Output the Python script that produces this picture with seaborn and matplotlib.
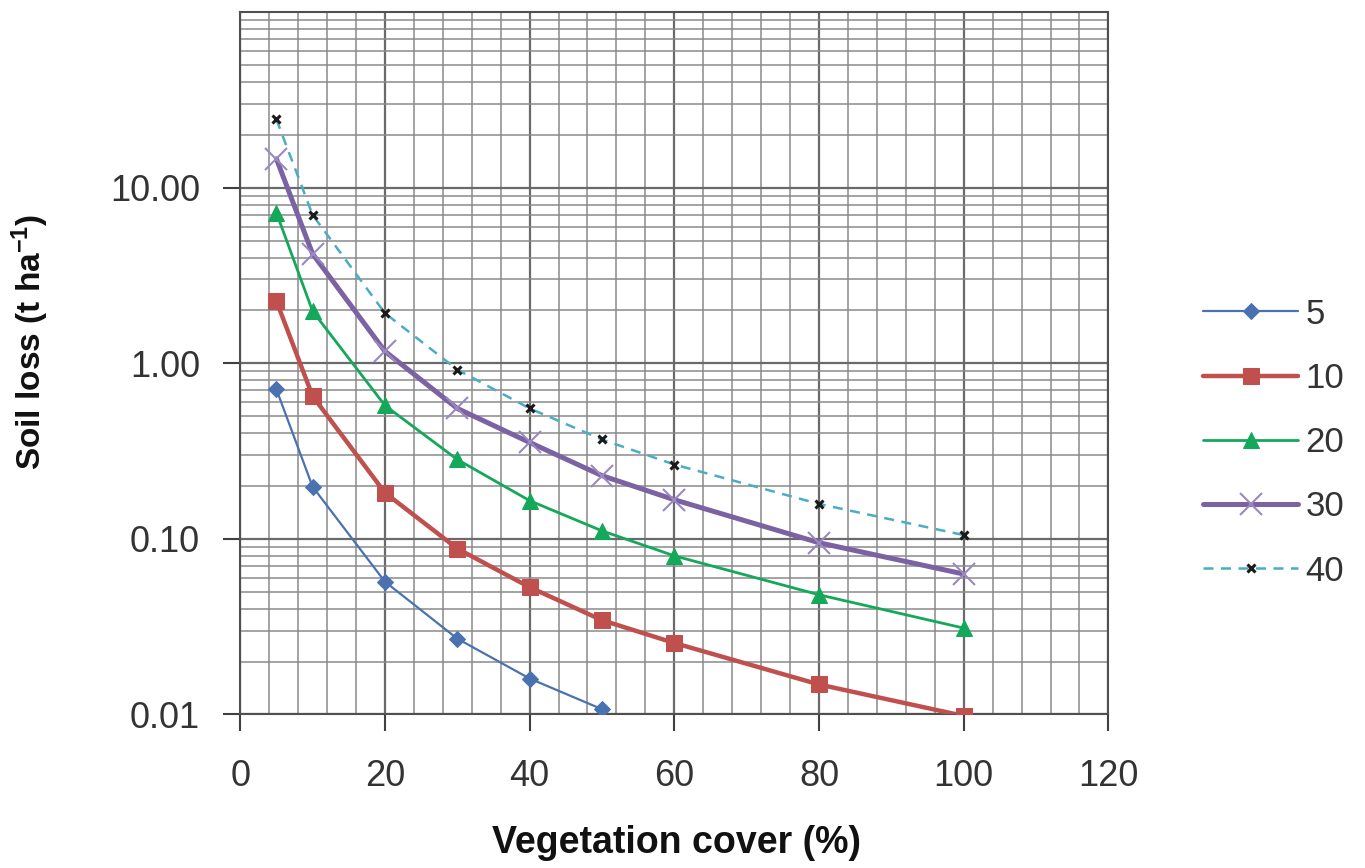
import numpy as np
import pandas as pd
import matplotlib
matplotlib.use("Agg")
import matplotlib.pyplot as plt
import seaborn as sns
from matplotlib.ticker import FixedLocator, MultipleLocator, LogLocator, NullFormatter

# ---- data ----
cover_5 = [5, 10, 20, 30, 40, 50]
loss_5 = [0.71, 0.198, 0.057, 0.027, 0.016, 0.0107]

cover_10 = [5, 10, 20, 30, 40, 50, 60, 80, 100]
loss_10 = [2.26, 0.65, 0.183, 0.088, 0.053, 0.0344, 0.0255, 0.0148, 0.0098]

cover_20 = [5, 10, 20, 30, 40, 50, 60, 80, 100]
loss_20 = [7.2, 1.98, 0.575, 0.283, 0.165, 0.111, 0.080, 0.048, 0.031]

cover_30 = [5, 10, 20, 30, 40, 50, 60, 80, 100]
loss_30 = [14.6, 4.2, 1.17, 0.553, 0.354, 0.229, 0.167, 0.095, 0.063]

cover_40 = [5, 10, 20, 30, 40, 50, 60, 80, 100]
loss_40 = [24.5, 7.0, 1.93, 0.92, 0.553, 0.368, 0.265, 0.158, 0.105]

series_labels = ["5", "10", "20", "30", "40"]
x_ticks = [0, 20, 40, 60, 80, 100, 120]
y_ticks = [0.01, 0.1, 1, 10]
y_tick_labels = ["0.01", "0.10", "1.00", "10.00"]

# ---- styling ----
sns.set_theme(style="white")
plt.rcParams["font.family"] = ["Liberation Sans", "DejaVu Sans"]
plt.rcParams["mathtext.fontset"] = "custom"
plt.rcParams["mathtext.rm"] = "Liberation Sans:bold"
plt.rcParams["mathtext.it"] = "Liberation Sans:bold"
plt.rcParams["mathtext.bf"] = "Liberation Sans:bold"

fig = plt.figure(figsize=(13.65, 8.68), dpi=100)
ax = fig.add_axes([0.176, 0.177, 0.636, 0.809])

styles = [
    dict(color="#4A72B0", marker="D", markersize=8, linewidth=1.6, linestyle="-",
         markeredgecolor="#4A72B0"),
    dict(color="#C0504D", marker="s", markersize=11, linewidth=3.2, linestyle="-",
         markeredgecolor="#C0504D"),
    dict(color="#14A85A", marker="^", markersize=12, linewidth=2.0, linestyle="-",
         markeredgecolor="#14A85A"),
    dict(color="#7B62A3", marker="x", markersize=16, linewidth=3.6, linestyle="-",
         markeredgecolor="#9A88C0", markeredgewidth=1.5),
    dict(color="#4BACC6", marker="x", markersize=6, linewidth=1.8, linestyle=(0, (4, 3)),
         markeredgecolor="#1A1A1A", markeredgewidth=2.2),
]

all_x = [cover_5, cover_10, cover_20, cover_30, cover_40]
all_y = [loss_5, loss_10, loss_20, loss_30, loss_40]

for xs, ys, lab, st in zip(all_x, all_y, series_labels, styles):
    df = pd.DataFrame({"cover": xs, "loss": ys})
    sns.lineplot(data=df, x="cover", y="loss", ax=ax, label=lab, zorder=3, **st)

ax.set_yscale("log")
ax.set_xlim(0, 120)
ax.set_ylim(0.01, 100)

ax.xaxis.set_major_locator(FixedLocator(x_ticks))
ax.xaxis.set_minor_locator(MultipleLocator(4))
ax.yaxis.set_major_locator(FixedLocator(y_ticks))
ax.set_yticklabels(y_tick_labels)
ax.yaxis.set_minor_locator(LogLocator(base=10, subs=np.arange(2, 10)))
ax.yaxis.set_minor_formatter(NullFormatter())

ax.grid(True, which="major", color="#6A6A6A", linewidth=1.6, zorder=0)
ax.grid(True, which="minor", color="#8A8A8A", linewidth=1.1, zorder=0)
ax.set_axisbelow(True)

ax.tick_params(axis="both", which="major", direction="out", length=12, width=1.5,
               color="#404040", labelsize=26, labelcolor="#333333", left=True, bottom=True)
ax.tick_params(axis="y", which="major", pad=17)
ax.tick_params(axis="x", which="major", pad=20)
ax.tick_params(axis="both", which="minor", length=0)

for sp in ax.spines.values():
    sp.set_color("#505050")
    sp.set_linewidth(1.5)

ax.set_xlabel("Vegetation cover (%)", fontsize=27, fontweight="bold", color="#111111")
ax.set_ylabel(r"Soil loss (t ha$^{\mathregular{-1}}$)", fontsize=24, fontweight="bold",
              color="#111111")
ax.xaxis.set_label_coords(0.503, -0.158)
ax.yaxis.set_label_coords(-0.218, 0.531)

leg = ax.legend(loc="center left", bbox_to_anchor=(1.109, 0.387), frameon=False,
                fontsize=25, handlelength=2.75, labelspacing=0.9, handletextpad=0.2,
                borderpad=0, borderaxespad=0)
for t in leg.get_texts():
    t.set_color("#333333")

fig.savefig("out.png", dpi=100)
